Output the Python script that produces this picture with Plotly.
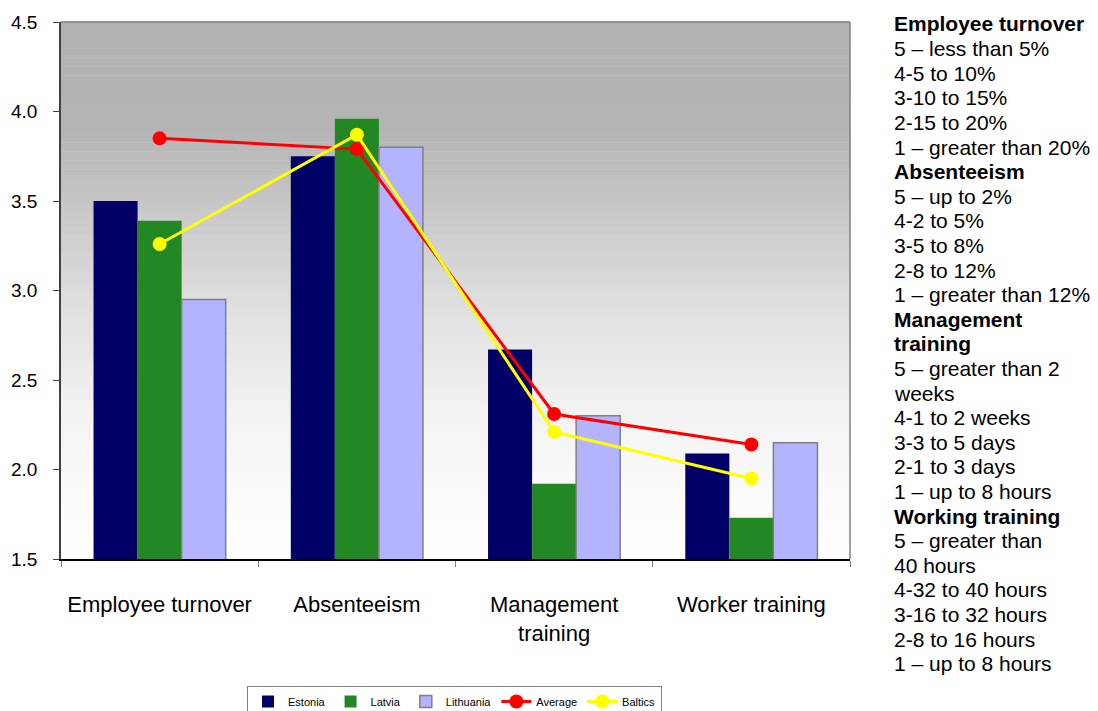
import numpy as np
import plotly.graph_objects as go

# ---- data ----
categories = ["Employee turnover", "Absenteeism", "Management<br>training", "Worker training"]
estonia = [3.50, 3.75, 2.67, 2.09]
latvia = [3.39, 3.96, 1.92, 1.73]
lithuania = [2.95, 3.80, 2.30, 2.15]
average = [3.85, 3.79, 2.31, 2.14]
baltics = [3.26, 3.87, 2.21, 1.95]
y_ticks = [1.5, 2.0, 2.5, 3.0, 3.5, 4.0, 4.5]

scale_notes = [
    ("Employee turnover", True),
    ("5 – less than 5%", False),
    ("4-5 to 10%", False),
    ("3-10 to 15%", False),
    ("2-15 to 20%", False),
    ("1 – greater than 20%", False),
    ("Absenteeism", True),
    ("5 – up to 2%", False),
    ("4-2 to 5%", False),
    ("3-5 to 8%", False),
    ("2-8 to 12%", False),
    ("1 – greater than 12%", False),
    ("Management", True),
    ("training", True),
    ("5 – greater than 2", False),
    ("weeks", False),
    ("4-1 to 2 weeks", False),
    ("3-3 to 5 days", False),
    ("2-1 to 3 days", False),
    ("1 – up to 8 hours", False),
    ("Working training", True),
    ("5 – greater than", False),
    ("40 hours", False),
    ("4-32 to 40 hours", False),
    ("3-16 to 32 hours", False),
    ("2-8 to 16 hours", False),
    ("1 – up to 8 hours", False),
]

# ---- layout geometry (pixels) ----
W, H = 1098, 711
ML, MR, MT, MB = 61, 248, 22, 152
plot_w = W - ML - MR
plot_h = H - MT - MB

ARIAL = "Liberation Sans, Arial, sans-serif"

fig = go.Figure()

fig.add_trace(go.Bar(name="Estonia", x=categories, y=estonia,
                     marker=dict(color="#000066", line=dict(width=0))))
fig.add_trace(go.Bar(name="Latvia", x=categories, y=latvia,
                     marker=dict(color="#238723", line=dict(width=0))))
fig.add_trace(go.Bar(name="Lithuania", x=categories, y=lithuania,
                     marker=dict(color="#b3b3ff", line=dict(color="#808080", width=1.5))))
fig.add_trace(go.Scatter(name="Average", x=categories, y=average, mode="lines+markers",
                         line=dict(color="#ff0000", width=3),
                         marker=dict(color="#ff0000", size=14, symbol="circle")))
fig.add_trace(go.Scatter(name="Baltics", x=categories, y=baltics, mode="lines+markers",
                         line=dict(color="#ffff00", width=3),
                         marker=dict(color="#ffff00", size=14, symbol="circle")))

# ---- vertical grey-to-white background gradient ----
stops_px = [0, 108, 188, 288, 388, 488, plot_h]
stops_val = [178, 180, 200, 224, 242, 252, 255]
n_strips = 120
shapes = []
for i in range(n_strips):
    y_top = 1 - i / n_strips
    y_bot = 1 - (i + 1) / n_strips
    mid_px = (i + 0.5) / n_strips * plot_h
    v = int(round(np.interp(mid_px, stops_px, stops_val)))
    shapes.append(dict(type="rect", xref="x domain", yref="y domain",
                       x0=0, x1=1, y0=y_bot, y1=y_top + 0.001,
                       fillcolor=f"rgb({v},{v},{v})", line=dict(width=0),
                       layer="below"))
# top and right frame lines
shapes.append(dict(type="line", xref="x domain", yref="y domain", x0=0, x1=1, y0=1, y1=1,
                   line=dict(color="#808080", width=1.5)))
shapes.append(dict(type="line", xref="x domain", yref="y domain", x0=1, x1=1, y0=0, y1=1,
                   line=dict(color="#808080", width=1.5)))

# ---- scale notes on the right ----
annotations = []
x_note = (892 - ML) / plot_w
for i, (txt, bold) in enumerate(scale_notes):
    ypix = 24 + i * 24.6
    annotations.append(dict(
        text=f"<b>{txt}</b>" if bold else txt,
        xref="paper", yref="paper", x=x_note, y=(H - MB - ypix) / plot_h,
        xanchor="left", yanchor="middle", showarrow=False,
        font=dict(family=ARIAL, size=21, color="#000000"),
    ))

fig.update_layout(
    width=W, height=H,
    margin=dict(l=ML, r=MR, t=MT, b=MB, pad=0, autoexpand=False),
    paper_bgcolor="#ffffff",
    plot_bgcolor="#ffffff",
    barmode="group",
    bargap=0.33,
    bargroupgap=0,
    shapes=shapes,
    annotations=annotations,
    showlegend=True,
    legend=dict(
        orientation="h",
        x=(454.5 - ML) / plot_w, xanchor="center",
        y=(H - MB - 686) / plot_h, yanchor="top",
        bordercolor="#808080", borderwidth=1,
        bgcolor="#ffffff",
        font=dict(family=ARIAL, size=11, color="#000000"),
        itemwidth=30,
        tracegroupgap=0,
    ),
    xaxis=dict(
        showline=True, linecolor="#000000", linewidth=1.5,
        ticks="outside", tickson="boundaries", ticklen=6, tickcolor="#808080",
        tickfont=dict(family=ARIAL, size=22, color="#000000"),
        tickangle=0, automargin=False,
        ticklabelstandoff=25,
        showgrid=False, zeroline=False,
    ),
    yaxis=dict(
        range=[1.5, 4.5], tickvals=y_ticks, tickformat=".1f",
        showline=True, linecolor="#404040", linewidth=1.5,
        ticks="outside", ticklen=6, tickcolor="#404040",
        tickfont=dict(family=ARIAL, size=19, color="#000000"),
        ticklabelstandoff=12, automargin=False,
        showgrid=False, zeroline=False,
    ),
)

fig.write_html("out.html")
